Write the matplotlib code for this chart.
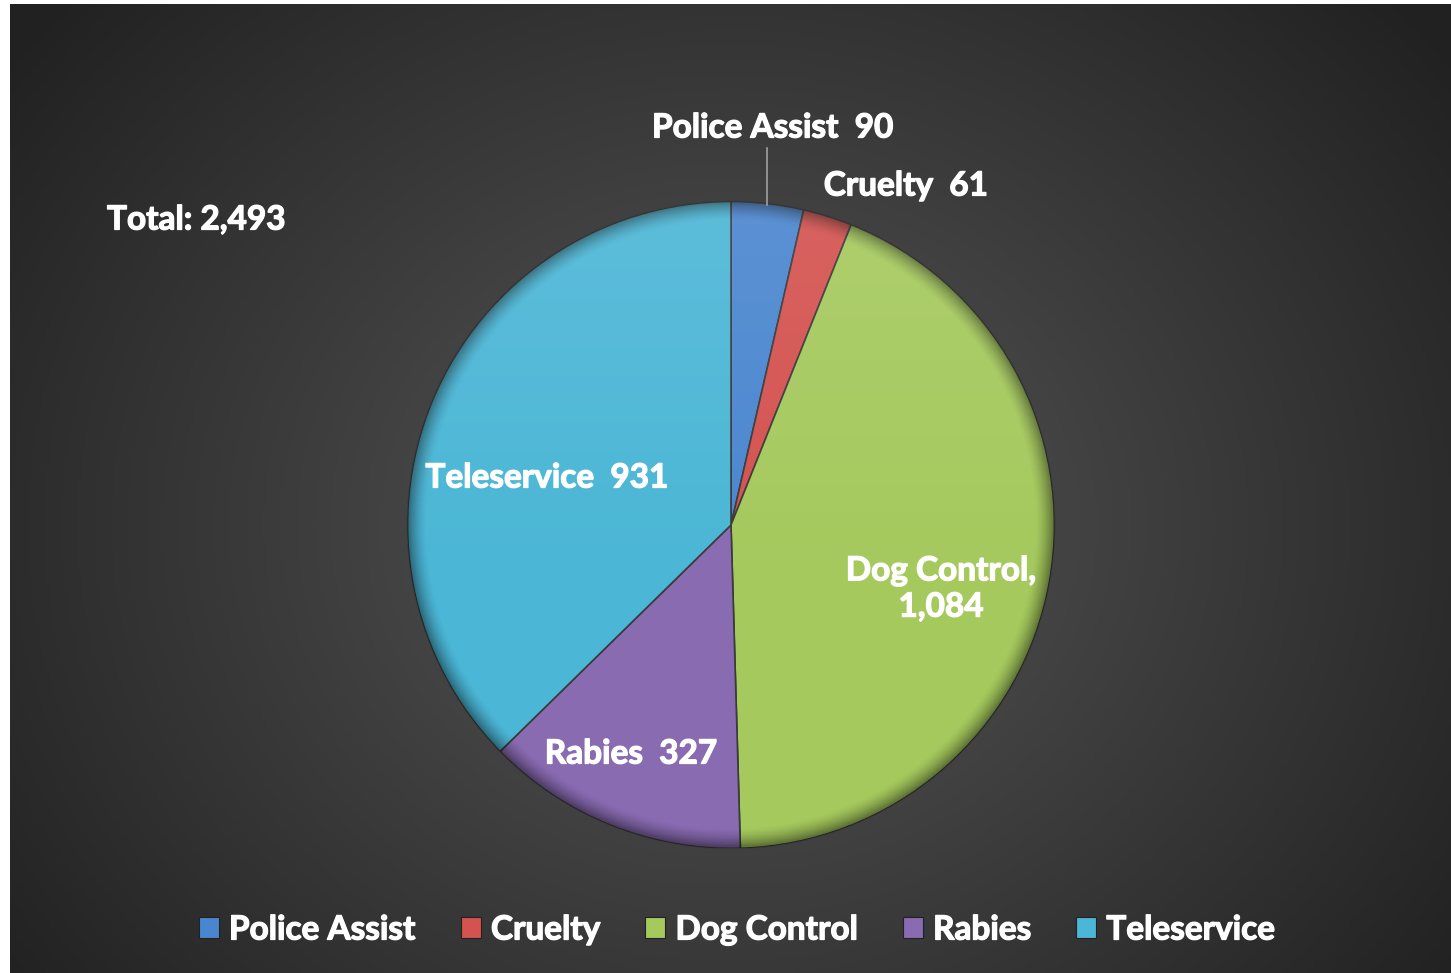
import numpy as np
import matplotlib
matplotlib.use("Agg")
import matplotlib.pyplot as plt
import matplotlib.patheffects as pe
from matplotlib.patches import Circle, Patch

categories = ["Police Assist", "Cruelty", "Dog Control", "Rabies", "Teleservice"]
counts = [90, 61, 1084, 327, 931]
colors = ["#4a86cf", "#d4524f", "#a5c95d", "#896bb2", "#4bb6d6"]
label_texts = ["Police Assist  90", "Cruelty  61", "Dog Control,\n1,084", "Rabies  327", "Teleservice  931"]

plt.rcParams["font.family"] = ["Lato", "DejaVu Sans"]
plt.rcParams["font.weight"] = "bold"

W, H = 1451, 973
fig = plt.figure(figsize=(W / 100, H / 100), dpi=100, facecolor="white")
ax = fig.add_axes([0, 0, 1, 1])

# pixel layout of the pie
cx, cy, R = 731, 525, 323.5
x0, x1 = -cx / R, (W - cx) / R
y0, y1 = -(H - cy) / R, cy / R

wedges, _ = ax.pie(counts, colors=colors, startangle=90, counterclock=False, radius=1,
                   wedgeprops=dict(edgecolor="#3a3a3a", linewidth=1.2))
for w in wedges:
    w.set_zorder(2)

ax.set_aspect("auto")
ax.axis("off")

# dark radial background (white strip on left / top like the original)
left, top = x0 + 10 / R, y1 - 4 / R
gx, gy = np.meshgrid(np.linspace(left, x1, 400), np.linspace(y0, top, 300))
d = np.sqrt(gx ** 2 + (gy * 1.15) ** 2)
lev = np.clip(0.34 - 0.075 * d, 0.13, 0.34)
bg = np.dstack([lev, lev, lev])
ax.imshow(bg, extent=[left, x1, y0, top], origin="lower", aspect="auto", zorder=0)

# soft rim shading like the bevel in the original
sx, sy = np.meshgrid(np.linspace(-1, 1, 500), np.linspace(-1, 1, 500))
r = np.sqrt(sx ** 2 + sy ** 2)
shade = np.zeros((500, 500, 4))
shade[..., 3] = 0.45 * np.clip((r - 0.94) / 0.06, 0, 1) ** 1.5
im = ax.imshow(shade, extent=[-1, 1, -1, 1], origin="lower", aspect="auto", zorder=3)
im.set_clip_path(Circle((0, 0), 1, transform=ax.transData))
hl = np.zeros((500, 500, 4))
hl[..., :3] = 1
hl[..., 3] = 0.10 * np.clip((sy + 0.2) / 1.2, 0, 1)
im2 = ax.imshow(hl, extent=[-1, 1, -1, 1], origin="lower", aspect="auto", zorder=3)
im2.set_clip_path(Circle((0, 0), 1, transform=ax.transData))

ax.set_xlim(x0, x1)
ax.set_ylim(y0, y1)

# a thin white stroke to get closer to the heavy bold of the original
bold = [pe.withStroke(linewidth=0.9, foreground="white")]

fs = 24
label_pos = [(773, 128), (906, 186), (941, 589), (631, 754), (547, 478)]
for txt, (px, py) in zip(label_texts, label_pos):
    ax.text((px - cx) / R, (cy - py) / R, txt, color="white", fontsize=fs,
            fontweight="bold", ha="center", va="center", zorder=5, linespacing=1.3,
            path_effects=bold)

# leader line for Police Assist
ax.plot([(767 - cx) / R] * 2, [(cy - 148) / R, (cy - 205) / R], color="#a0a0a0", lw=1.2, zorder=4)

ax.text((107 - cx) / R, (cy - 220) / R, "Total: {:,}".format(sum(counts)), color="white",
        fontsize=fs, fontweight="bold", ha="left", va="center", zorder=5, path_effects=bold)

handles = [Patch(facecolor=c, edgecolor="#222222", linewidth=0.8) for c in colors]
leg = fig.legend(handles, categories, loc="center", bbox_to_anchor=(737 / W, 1 - 930 / H),
                 ncol=5, frameon=False, fontsize=fs, handlelength=0.6, handleheight=0.6,
                 handletextpad=0.3, columnspacing=1.35)
for t in leg.get_texts():
    t.set_color("white")
    t.set_fontweight("bold")
    t.set_path_effects(bold)

fig.savefig("out.png", dpi=100, facecolor="white")
